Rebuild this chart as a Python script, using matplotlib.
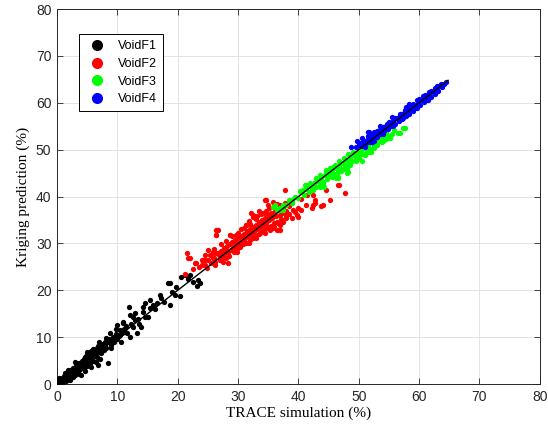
import matplotlib
matplotlib.use("Agg")
import matplotlib.pyplot as plt

# ---------------- data ----------------
f1_x = [0.1,0.2,0.3,0.4,0.5,0.6,0.7,0.8,0.9,1.0,1.1,1.2,1.3,1.4,1.5,1.6,1.7,1.8,1.9,2.0,
        2.1,2.2,2.3,2.4,2.5,2.6,2.7,2.8,2.9,3.0,3.1,3.2,3.3,3.4,3.5,3.6,3.7,3.8,3.9,4.0,
        4.1,4.2,4.3,4.4,4.5,4.6,4.7,4.8,4.9,5.0,5.1,5.2,5.3,5.4,5.5,5.6,5.7,5.8,5.9,6.0,
        6.2,6.3,6.4,6.6,6.7,6.8,6.9,7.0,7.2,7.3,7.5,7.6,7.8,7.9,8.0,8.2,8.4,8.5,8.7,8.9,
        9.0,9.2,9.4,9.6,9.8,10.0,10.2,10.4,10.4,10.7,10.9,10.9,11.1,11.3,11.5,11.9,12.1,12.1,12.3,12.6,
        12.9,13.2,13.5,14.0,14.2,14.3,14.6,14.6,15.0,15.4,15.4,15.9,16.3,17.1,17.3,17.8,18.4,18.7,18.7,19.0,
        19.5,20.4,20.6,21.2,21.7,22.5,23.3,23.7,23.2,22.0,
        0.3,0.9,1.4,2.2,2.7,3.2,3.6,4.6,4.8,5.6,6.0,6.4,7.2,7.0,8.2,9.0,9.8,10.6,11.6,12.6,
        13.6,16.6,19.8,13.0,8.8,5.0,3.0,1.8,6.8,10.0]
f1_y = [0.2,0.6,0.0,0.4,1.0,0.3,0.8,0.1,1.3,0.6,1.0,1.7,0.9,1.3,0.7,2.0,1.5,1.1,2.4,1.8,
        2.9,1.6,2.3,3.0,1.9,2.6,3.4,2.4,3.1,2.0,3.8,2.9,3.4,4.2,2.6,3.7,4.6,3.2,4.1,1.9,
        4.9,3.6,4.4,5.3,3.5,4.8,5.7,4.1,5.1,3.9,6.0,4.7,5.5,6.5,4.6,5.9,7.0,5.2,6.3,5.0,
        7.2,6.0,6.7,7.6,5.8,8.1,6.9,7.3,8.0,6.6,7.8,8.6,7.2,9.0,8.2,7.7,4.5,8.9,9.6,8.3,
        9.3,10.1,8.9,9.8,10.6,9.6,10.3,11.5,10.4,10.9,13.3,13.0,11.8,11.2,12.4,16.5,14.7,10.1,12.8,12.2,
        13.6,10.9,13.9,12.1,15.4,16.5,17.3,14.4,14.4,17.9,16.2,16.8,16.0,19.0,18.3,17.6,21.5,21.6,16.8,19.7,
        19.0,18.8,22.8,23.2,22.4,21.8,22.2,21.5,20.9,23.2,
        1.2,0.2,2.3,0.8,1.5,4.4,2.2,2.8,6.0,3.6,7.4,4.8,5.4,9.0,9.8,7.7,11.8,9.0,10.8,14.4,
        12.9,17.4,20.8,15.2,10.9,6.9,4.8,3.0,4.0,12.5]

f2_x = [21.2,21.5,21.7,22.0,22.8,24.0,24.2,24.5,24.5,25.0,25.3,25.8,25.8,26.4,26.4,26.7,27.0,27.5,28.6,29.7,
        31.4,32.2,34.4,34.7,35.0,35.8,37.7,37.7,37.2,38.0,38.0,39.1,39.7,39.9,40.0,40.5,41.3,42.2,42.4,42.4,
        42.7,42.7,43.8,44.0,44.6,45.2,46.5,46.7,47.7,36.4,36.9,35.3,
        26.8,27.0,27.2,27.4,27.6,27.8,28.0,28.2,28.3,28.5,28.7,28.9,29.0,29.2,29.4,29.5,29.7,29.9,
        30.0,30.2,30.4,30.5,30.7,30.9,31.0,31.2,31.4,31.5,31.7,31.9,32.0,32.2,32.4,32.5,32.7,32.9,
        33.0,33.2,33.4,33.5,33.7,33.9,34.0,34.2,34.4,34.5,34.7,34.9,35.0,35.2,35.4,35.5,35.7,35.9,
        36.1,36.3,36.5,36.7,36.9,37.2,37.4,37.6,38.0,38.4,26.0,25.5,26.2,28.0,29.5,31.0,32.5,34.0,
        35.5,30.0,31.0,32.0,33.0,33.8,32.5,34.6,
        23.1,24.0,24.5,25.8,26.2,27.5,28.3,31.1,33.6,35.5,36.6,38.9,39.4,37.0,36.0,
        31.4,31.6,30.0,28.6,26.4,26.4,32.5,33.9,
        29.0,30.5,31.8,33.2,34.3,35.2,36.5,29.8,31.8,33.0,34.5,35.8,37.5,28.0,27.2,26.0,25.0,24.8,
        23.5,22.5,33.5,36.0,37.0,38.5,39.0,40.5,41.5]
f2_y = [23.5,27.9,26.9,26.8,25.8,25.4,26.4,27.5,26.4,28.6,27.5,27.1,28.2,27.9,31.8,32.8,28.2,27.1,31.8,31.8,
        33.9,36.4,39.2,39.2,38.2,38.9,41.4,38.6,37.1,35.7,35.4,37.1,36.0,35.7,37.5,37.1,38.2,37.5,40.3,38.2,
        38.6,39.2,38.0,38.2,41.4,39.2,42.4,42.4,40.7,32.8,32.8,32.8,
        27.6,26.5,28.4,27.3,29.0,27.9,26.9,29.4,28.2,27.4,29.8,28.7,30.3,29.1,28.2,30.7,29.6,28.8,
        31.2,30.2,29.3,31.6,30.6,29.8,32.1,31.1,30.2,32.6,31.6,30.7,33.0,32.0,31.1,33.6,32.4,31.5,
        34.0,33.0,32.0,34.5,33.5,32.6,35.0,34.0,33.0,35.5,34.4,33.5,36.0,34.9,33.8,36.4,35.4,34.3,
        36.9,35.8,34.6,37.2,36.0,35.2,37.6,36.5,37.0,36.2,27.0,25.8,26.0,28.7,29.9,31.4,32.8,34.3,
        35.6,32.2,33.2,34.2,35.2,36.2,35.6,37.0,
        25.8,26.4,25.4,26.8,25.4,26.1,25.8,30.0,32.2,33.2,34.3,35.4,36.7,34.0,33.5,
        33.9,32.2,31.8,31.8,32.8,31.8,36.0,36.4,
        31.5,33.0,34.8,35.8,36.6,37.5,38.5,28.2,30.0,31.2,32.2,33.2,34.5,30.5,29.8,28.8,26.5,24.8,
        25.0,24.5,36.9,37.8,38.2,38.0,38.6,39.5,40.3]

f3_x = [35.8,36.1,36.4,36.9,37.5,38.9,39.5,40.8,41.1,41.3,42.4,44.6,46.5,46.5,48.0,48.0,48.0,48.2,53.8,56.5,
        57.6,53.5,50.5,52.0,54.5,55.0,56.8,55.1,52.3,50.7,57.3,
        40.5,41.0,41.3,41.7,42.0,42.3,42.6,42.9,43.2,43.5,43.8,44.1,44.4,44.7,45.0,45.3,45.6,45.9,46.2,46.5,
        46.8,47.1,47.4,47.7,48.0,48.3,48.6,48.9,49.2,49.5,49.8,50.1,50.4,50.7,51.0,51.3,51.6,51.9,52.2,52.5,
        52.8,53.1,53.4,53.7,54.0,54.3,54.6,55.0,41.5,43.0,44.5,46.0,47.5,49.0,50.5,52.0,42.5,44.0,45.5,47.0,
        48.5,50.0,51.5,53.0,38.0,38.5,39.0,39.5,40.0,37.0,37.5,
        43.5,45.2,46.8,48.2,44.2,46.2,47.8,49.5,51.0,52.6,54.0,55.5,53.8,55.8,45.8,43.5,42.0,40.2]
f3_y = [37.8,38.2,37.1,37.1,38.3,39.2,40.0,41.4,42.4,42.4,41.8,45.6,43.9,44.2,46.0,45.0,46.3,45.3,51.7,53.5,
        54.6,54.6,47.5,49.5,52.3,53.0,53.5,52.5,51.4,51.7,54.6,
        40.9,40.4,41.7,41.0,42.3,41.5,42.9,42.1,43.4,42.6,43.9,43.2,44.5,43.7,45.0,44.3,45.6,44.8,46.1,45.3,
        46.6,45.9,47.2,46.4,47.7,47.0,48.2,47.5,48.8,48.0,49.3,48.6,49.8,49.1,50.4,49.6,50.9,50.2,51.4,50.7,
        52.0,51.3,52.5,51.8,53.0,52.4,53.5,52.9,42.3,43.9,45.3,46.8,48.2,49.6,51.0,52.4,41.3,42.7,44.1,45.4,
        46.8,48.2,49.5,50.9,38.3,39.2,38.7,39.9,39.6,37.6,37.2,
        44.6,46.2,47.6,49.0,42.0,44.0,45.8,47.5,48.9,50.3,51.9,53.4,53.8,54.2,46.4,42.0,42.9,41.2]

f4_x = [49.7,51.3,51.5,51.7,51.8,50.5,50.0,
        50.0,50.3,50.6,50.9,51.2,51.5,51.8,52.1,52.4,52.7,53.0,53.3,53.6,53.9,54.2,54.5,54.8,55.1,55.4,55.7,
        56.0,56.3,56.6,56.9,57.2,57.5,57.8,58.1,58.4,58.7,59.0,59.3,59.6,59.9,60.2,60.5,60.8,61.1,61.4,61.7,
        62.0,62.3,62.6,62.9,63.2,63.5,63.8,64.1,64.4,57.0,58.0,59.0,60.0,61.0,62.0,63.0,55.0,56.0,53.0,54.0,
        52.0,53.5,52.5,51.0,49.5,48.8,58.4,57.8,55.5,
        50.5,51.6,52.6,53.7,54.7,55.8,56.8,57.7,58.8,59.7,60.7,61.7,62.7,63.6,54.0,55.6,57.3,59.4,61.3,52.2]
f4_y = [51.9,51.9,53.8,53.8,52.7,52.4,51.5,
        50.9,51.5,50.8,51.9,51.4,52.4,51.7,52.9,52.2,53.4,52.8,54.0,53.4,54.5,53.9,55.0,54.4,55.6,55.0,56.1,
        55.5,56.7,56.1,57.2,56.6,57.8,57.2,58.3,57.7,58.9,58.3,59.4,58.9,60.0,59.5,60.6,60.1,61.2,60.7,61.8,
        61.3,62.4,61.9,63.0,62.6,63.6,63.3,64.1,64.4,57.7,58.8,59.7,60.8,61.6,62.6,63.5,55.9,56.8,53.9,54.9,
        53.4,55.0,51.8,50.6,50.5,50.6,59.8,59.2,57.0,
        51.2,52.9,53.7,54.6,55.5,56.6,57.6,58.5,59.6,60.5,61.5,62.4,63.2,64.0,53.4,55.1,56.8,58.9,60.8,51.7]

series = [("VoidF1", f1_x, f1_y, "#000000"),
          ("VoidF2", f2_x, f2_y, "#ff0000"),
          ("VoidF3", f3_x, f3_y, "#00ff00"),
          ("VoidF4", f4_x, f4_y, "#0000ff")]
line_x = [0, 64.8]
line_y = [0, 64.8]
ticks = [0, 10, 20, 30, 40, 50, 60, 70, 80]

# ---------------- figure ----------------
plt.rcParams['font.family'] = ['Liberation Sans', 'DejaVu Sans']
fig = plt.figure(figsize=(5.48, 4.33), dpi=100)
ax = fig.add_axes([0.104, 0.113, 0.881, 0.866])

for name, xs, ys, c in series:
    ax.plot(xs, ys, 'o', color=c, markersize=3.8, markeredgewidth=0, label=name, zorder=3)
ax.plot(line_x, line_y, '-', color='black', linewidth=1.0, zorder=4)

ax.set_xlim(0, 80)
ax.set_ylim(0, 80)
ax.set_xticks(ticks)
ax.set_yticks(ticks)
ax.tick_params(direction='in', top=True, right=True, labelsize=10, colors='#262626',
               length=4, width=0.6, pad=4)
for s in ax.spines.values():
    s.set_color('#262626')
    s.set_linewidth(0.7)
ax.grid(True, color='#e3e3e3', linewidth=0.7)
ax.set_axisbelow(True)

ax.set_xlabel('TRACE simulation (%)', family='Liberation Serif', fontsize=11, labelpad=2)
ax.set_ylabel('Kriging prediction (%)', family='Liberation Serif', fontsize=11, labelpad=4)

leg = ax.legend(loc='upper left', bbox_to_anchor=(0.032, 0.95), fontsize=9, markerscale=2.1,
                handletextpad=0.6, borderpad=0.5, labelspacing=0.45, fancybox=False,
                edgecolor='black', framealpha=1)
leg.get_frame().set_linewidth(0.7)

fig.savefig('out.png', dpi=100)
